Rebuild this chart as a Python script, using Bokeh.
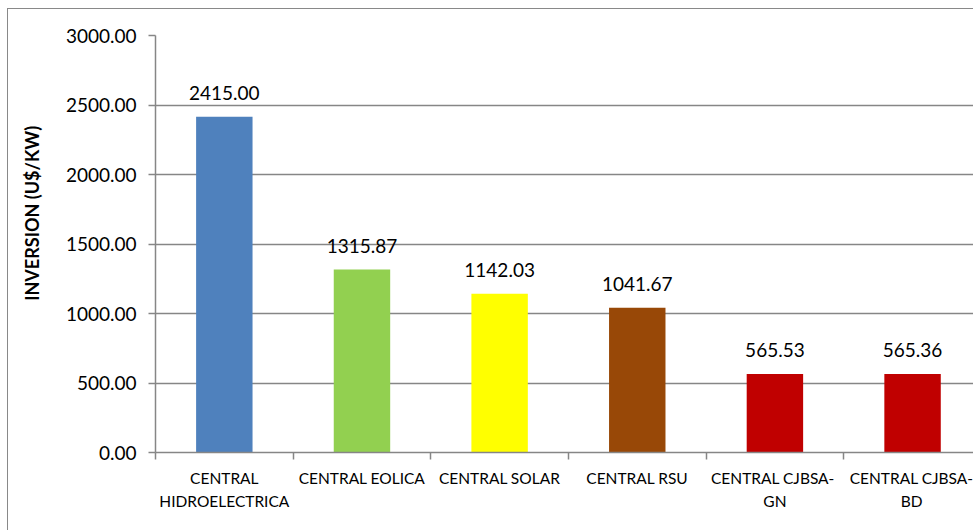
import numpy as np
from bokeh.plotting import figure
from bokeh.models import Range1d, FixedTicker, NumeralTickFormatter, ColumnDataSource, LabelSet
from bokeh.core.properties import value
from bokeh.embed import file_html
from bokeh.resources import INLINE

categories = ["CENTRAL\nHIDROELECTRICA", "CENTRAL EOLICA", "CENTRAL SOLAR",
              "CENTRAL RSU", "CENTRAL  CJBSA-\nGN", "CENTRAL CJBSA-\nBD"]
values = [2415.00, 1315.87, 1142.03, 1041.67, 565.53, 565.36]
value_labels = ["2415.00", "1315.87", "1142.03", "1041.67", "565.53", "565.36"]
colors = ["#4F81BD", "#92D050", "#FFFF00", "#984807", "#C00000", "#C00000"]
y_ticks = [0, 500, 1000, 1500, 2000, 2500, 3000]
y_title = "INVERSION (U$/KW)"

FONT = "Lato"
GRAY = "#868686"

n = len(categories)
xs = list(np.arange(n) + 0.5)
source = ColumnDataSource(dict(x=xs, top=values, color=colors, label=value_labels))

p = figure(width=966, height=522, x_range=Range1d(0, 5.95), y_range=Range1d(0, 3000),
           output_backend="svg", toolbar_location=None,
           min_border_left=147, min_border_right=0, min_border_top=26, min_border_bottom=79)
p.styles = {"margin-left": "7px", "margin-top": "8px",
            "border-left": "1px solid #898989", "border-top": "1px solid #898989"}
p.outline_line_color = None
p.background_fill_color = "white"
p.border_fill_color = "white"

p.vbar(x="x", top="top", width=0.41, color="color", line_color=None, source=source)

labels = LabelSet(x="x", y="top", text="label", source=source, y_offset=17,
                  text_align="center", text_baseline="alphabetic",
                  text_font=value(FONT), text_font_size=value("19px"), text_color="black")
p.add_layout(labels)

# grid
p.xgrid.grid_line_color = None
p.ygrid.ticker = FixedTicker(ticks=y_ticks)
p.ygrid.grid_line_color = GRAY
p.ygrid.grid_line_width = 1.5

# y axis
p.yaxis.ticker = FixedTicker(ticks=y_ticks)
p.yaxis.formatter = NumeralTickFormatter(format="0.00")
p.yaxis.axis_line_color = GRAY
p.yaxis.axis_line_width = 1.5
p.yaxis.major_tick_line_color = GRAY
p.yaxis.major_tick_line_width = 1.5
p.yaxis.major_tick_out = 7
p.yaxis.major_tick_in = 0
p.yaxis.minor_tick_line_color = None
p.yaxis.major_label_text_font = FONT
p.yaxis.major_label_text_font_size = "19px"
p.yaxis.major_label_text_color = "black"
p.yaxis.major_label_standoff = 12
# leading no-break spaces shift the centred title upward, as in the reference
p.yaxis.axis_label = "\u00a0" * 14 + y_title
p.yaxis.axis_label_text_font = FONT
p.yaxis.axis_label_text_font_size = "18px"
p.yaxis.axis_label_text_font_style = "bold"
p.yaxis.axis_label_text_color = "black"
p.yaxis.axis_label_standoff = 20

# x axis
p.xaxis.ticker = FixedTicker(ticks=xs, minor_ticks=list(range(n + 1)))
p.xaxis.major_label_overrides = {x: c for x, c in zip(xs, categories)}
p.xaxis.axis_line_color = GRAY
p.xaxis.axis_line_width = 1.5
p.xaxis.major_tick_line_color = None
p.xaxis.major_tick_out = 0
p.xaxis.major_tick_in = 0
p.xaxis.minor_tick_line_color = GRAY
p.xaxis.minor_tick_line_width = 1.5
p.xaxis.minor_tick_out = 7
p.xaxis.minor_tick_in = 0
p.xaxis.major_label_text_font = FONT
p.xaxis.major_label_text_font_size = "15.5px"
p.xaxis.major_label_text_color = "black"
p.xaxis.major_label_text_line_height = 1.3
p.xaxis.major_label_standoff = 9

open("out.html", "w").write(file_html(p, INLINE))
